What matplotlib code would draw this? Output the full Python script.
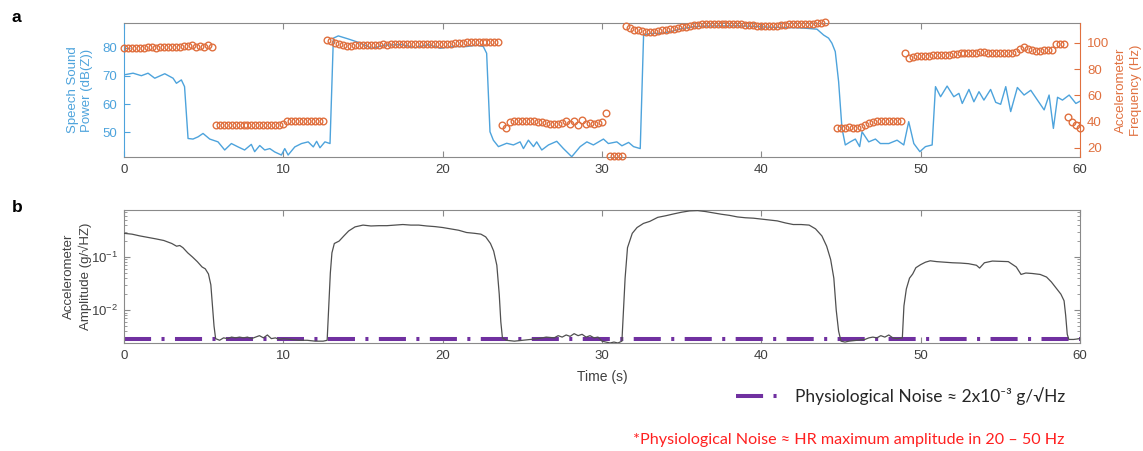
import matplotlib
matplotlib.use("Agg")
import matplotlib.pyplot as plt
import numpy as np

plt.rcParams['font.family'] = ['Liberation Sans', 'DejaVu Sans']
plt.rcParams['mathtext.fontset'] = 'custom'
plt.rcParams['mathtext.rm'] = 'Liberation Sans'
plt.rcParams['mathtext.it'] = 'Liberation Sans:italic'
plt.rcParams['mathtext.default'] = 'regular'
plt.rcParams['lines.scale_dashes'] = False

# ---------------- data: panel a ----------------
speech_t = [0.0, 0.57, 1.09, 1.51, 1.93, 2.56, 3.08, 3.29, 3.6, 3.8, 4.02, 4.33, 4.65, 4.96, 5.38,
            5.9, 6.32, 6.74, 7.16, 7.57, 7.99, 8.2, 8.52, 8.83, 9.15, 9.46, 9.88, 10.09, 10.3,
            10.72, 11.14, 11.56, 11.88, 12.09, 12.3, 12.61, 12.93, 13.14, 13.45, 14.08, 14.71,
            15.55, 16.39, 17.43, 18.27, 19.1, 19.84, 20.68, 21.5, 22.13, 22.55, 22.76, 22.97,
            23.18, 23.5, 24.02, 24.44, 24.86, 25.07, 25.38, 25.7, 25.9, 26.22, 26.64, 27.16,
            27.58, 28.1, 28.63, 29.05, 29.46, 30.09, 30.4, 30.93, 31.25, 31.67, 31.98, 32.4,
            32.61, 33.03, 33.66, 34.29, 34.92, 35.76, 36.5, 37.5, 38.5, 39.5, 40.5, 41.5, 42.2,
            42.86, 43.49, 43.91, 44.22, 44.43, 44.64, 44.85, 45.06, 45.27, 45.58, 45.9, 46.17,
            46.32, 46.74, 47.16, 47.47, 48.0, 48.52, 48.94, 49.25, 49.57, 49.95, 50.3, 50.72,
            50.93, 51.25, 51.66, 52.08, 52.4, 52.61, 53.03, 53.34, 53.66, 53.97, 54.39, 54.71,
            55.02, 55.34, 55.65, 56.07, 56.49, 56.91, 57.33, 57.75, 58.06, 58.33, 58.59, 58.9,
            59.32, 59.74, 60.0]
speech_db = [70.4, 71.0, 70.1, 71.0, 69.2, 70.8, 69.2, 67.4, 68.6, 66.2, 47.7, 47.5, 48.3, 49.5, 47.5,
             46.5, 43.6, 45.9, 44.7, 43.6, 45.6, 43.0, 45.2, 43.6, 44.1, 42.9, 41.8, 44.1, 41.8,
             44.7, 45.9, 46.5, 44.7, 46.7, 44.4, 46.5, 45.9, 83.5, 84.3, 83.2, 82.0,
             79.9, 81.0, 81.2, 80.1, 81.2, 79.9, 80.5, 80.5, 81.0, 80.5, 78.1, 50.1,
             47.1, 44.8, 46.0, 45.4, 46.5, 44.1, 47.1, 44.8, 46.5, 43.6, 45.4, 46.7,
             44.1, 41.2, 44.8, 46.5, 45.4, 47.5, 45.9, 46.5, 45.1, 46.3, 44.8, 44.1,
             84.6, 85.2, 85.2, 85.8, 86.8, 87.6, 87.8, 87.9, 87.9, 87.7, 87.4, 87.3, 87.2,
             87.0, 86.7, 84.6, 83.5, 81.7, 78.7, 68.0, 51.4, 45.4, 46.5, 47.5, 44.8,
             50.1, 46.5, 47.5, 45.9, 45.9, 47.1, 45.4, 53.7, 45.9, 43.0, 44.8, 45.4,
             66.2, 62.6, 66.4, 62.6, 63.8, 60.2, 65.2, 60.8, 64.4, 61.4, 65.2, 60.6,
             59.9, 66.2, 57.3, 65.9, 63.2, 64.9, 61.4, 57.9, 63.2, 51.3, 62.4, 61.4,
             63.2, 60.2, 61.0]

freq_step = 0.25
freq_seg0 = (0.0, [96.0, 96.0, 96.2, 96.0, 96.5, 96.3, 97.0, 96.8, 96.5, 97.0, 97.2, 96.8, 97.2,
                   97.0, 96.6, 97.3, 97.8, 98.2, 97.2, 97.9, 97.0, 98.3, 97.2])
freq_seg1 = (5.75, [37.6, 37.5, 37.5, 37.4, 37.5, 37.5, 37.6, 37.5, 37.5, 37.4, 37.5, 37.5, 37.5,
                    37.6, 37.5, 37.5, 37.6, 38.0])
freq_seg2 = (10.25, [40.3, 40.5, 40.5, 40.6, 40.5, 40.5, 40.5, 40.6, 40.5, 40.5])
freq_seg3 = (12.75, [102.5, 101.5, 100.0, 99.0, 98.3, 98.0, 98.0, 98.2, 98.3, 98.5, 98.7, 98.7,
                     98.8, 98.8, 99.0, 98.8, 99.0, 99.0, 99.2, 99.0, 99.2, 99.0, 99.2, 99.3, 99.1,
                     99.3, 99.2, 99.4, 99.3, 99.5, 99.4, 99.5, 99.6, 99.8, 100.2, 100.8, 101.0,
                     101.0, 101.0, 101.1, 101.0, 101.0, 100.8, 100.5])
freq_seg4 = (23.75, [37.5, 35.5, 40.0, 40.3, 40.2, 40.4, 40.3, 40.2, 40.2, 40.0, 39.5, 39.0, 38.5,
                     38.2, 38.5, 39.0, 40.5, 38.0, 40.8, 37.8, 41.5, 38.5, 39.0, 38.3, 38.8, 39.5,
                     46.5])
freq_seg5 = (30.5, [14.0, 14.0, 14.0, 14.0])
freq_seg6 = (31.5, [113.0, 111.5, 110.0, 109.5, 109.0, 108.5, 108.5, 108.7, 109.0, 109.5, 110.0,
                    110.5, 111.0, 111.5, 112.0, 112.5, 113.0, 113.5, 114.0, 114.3, 114.5, 114.5,
                    114.6, 114.5, 114.5, 114.6, 114.5, 114.5, 114.4, 114.3, 114.0, 113.5, 113.3,
                    113.2, 113.0, 113.0, 113.2, 113.0, 113.2, 113.5, 113.8, 114.2, 114.5, 114.5,
                    114.6, 114.5, 114.6, 114.7, 115.0, 115.5, 116.0])
freq_seg7 = (44.75, [35.5, 35.5, 35.5, 35.6, 35.5, 35.5, 35.7, 37.5, 39.0, 40.0, 40.5, 40.5, 40.6,
                     40.5, 40.5, 40.6, 40.5])
freq_seg8 = (49.0, [92.5, 88.5, 89.5, 90.0, 90.2, 90.3, 90.3, 90.5, 90.5, 90.8, 91.0, 91.0, 91.3,
                    91.5, 92.0, 92.2, 92.3, 92.3, 92.5, 92.8, 93.0, 92.5, 92.3, 92.2, 92.3, 92.3,
                    92.4, 92.5, 93.0, 95.5, 97.0, 95.5, 94.5, 94.2, 94.2, 94.3, 94.3, 94.5, 99.0,
                    99.5, 99.5])
freq_seg9 = (59.25, [43.5, 40.0, 37.5, 35.5])
freq_segments = [freq_seg0, freq_seg1, freq_seg2, freq_seg3, freq_seg4, freq_seg5,
                 freq_seg6, freq_seg7, freq_seg8, freq_seg9]

# ---------------- data: panel b ----------------
amp_t = [0.0, 0.5, 1.0, 1.5, 2.0, 2.5, 3.0, 3.3, 3.5, 3.7, 4.0, 4.3, 4.6, 4.9, 5.1, 5.3, 5.45, 5.55,
         5.65, 5.75, 6.0, 6.25, 6.5, 6.75, 7.0, 7.25, 7.5, 7.75, 8.0, 8.25, 8.5, 8.75, 9.0, 9.25,
         9.5, 9.75, 10.0, 10.5, 11.0, 11.5, 12.0, 12.5, 12.75, 12.85, 12.95, 13.05, 13.2, 13.5,
         13.8, 14.1, 14.5, 15.0, 15.5, 16.0, 16.5, 17.0, 17.5, 18.0, 18.5, 19.0, 19.5, 20.0, 20.5,
         21.0, 21.5, 22.0, 22.4, 22.7, 23.0, 23.2, 23.4, 23.55, 23.65, 23.75, 24.0, 24.5, 25.0,
         25.5, 26.0, 26.5, 27.0, 27.25, 27.5, 27.75, 28.0, 28.25, 28.5, 28.75, 29.0, 29.25, 29.5,
         29.75, 30.0, 30.25, 30.5, 30.75, 31.0, 31.25, 31.35, 31.45, 31.6, 31.9, 32.2, 32.6,
         33.0, 33.5, 34.0, 34.5, 35.0, 35.5, 36.0, 36.5, 37.0, 37.5, 38.0, 38.5, 39.0, 39.5,
         40.0, 40.5, 41.0, 41.5, 42.0, 42.5, 43.0, 43.4, 43.8, 44.1, 44.35, 44.55, 44.7, 44.85,
         45.0, 45.25, 45.5, 46.0, 46.5, 46.75, 47.0, 47.25, 47.5, 47.75, 48.0, 48.25, 48.5,
         48.85, 48.95, 49.1, 49.3, 49.5, 49.7, 50.0, 50.3, 50.6, 51.0, 51.5, 52.0, 52.5, 53.0,
         53.5, 53.7, 54.0, 54.5, 55.0, 55.5, 56.0, 56.3, 56.6, 57.0, 57.5, 57.9, 58.2, 58.5,
         58.8, 59.0, 59.1, 59.2, 59.3, 59.6, 60.0]
amp_g = [0.28, 0.27, 0.25, 0.235, 0.22, 0.205, 0.18, 0.16, 0.165, 0.15, 0.12, 0.10, 0.082, 0.065,
         0.06, 0.048, 0.03, 0.012, 0.005, 0.0029, 0.0027, 0.0030, 0.0029, 0.0031, 0.0030, 0.0031,
         0.0030, 0.0031, 0.0029, 0.0031, 0.0033, 0.0030, 0.0034, 0.0029, 0.0030, 0.0028, 0.0029,
         0.0028, 0.0027, 0.0027, 0.0026, 0.0026, 0.0027, 0.012, 0.05, 0.12, 0.18, 0.20, 0.25,
         0.31, 0.37, 0.40, 0.385, 0.39, 0.39, 0.40, 0.41, 0.40, 0.40, 0.385, 0.375, 0.36, 0.34,
         0.32, 0.29, 0.28, 0.27, 0.24, 0.18, 0.13, 0.07, 0.02, 0.006, 0.003, 0.0027, 0.0026,
         0.0027, 0.0028, 0.0029, 0.0031, 0.0030, 0.0033, 0.0031, 0.0034, 0.0032, 0.0036, 0.0033,
         0.0035, 0.0031, 0.0033, 0.0030, 0.0031, 0.0026, 0.0025, 0.0024, 0.0025, 0.0024, 0.0026,
         0.01, 0.04, 0.15, 0.28, 0.36, 0.43, 0.47, 0.56, 0.60, 0.65, 0.70, 0.74, 0.75, 0.72,
         0.68, 0.64, 0.61, 0.57, 0.55, 0.54, 0.52, 0.50, 0.48, 0.44, 0.41, 0.41, 0.40, 0.34,
         0.25, 0.16, 0.09, 0.04, 0.01, 0.004, 0.0026, 0.0025, 0.0026, 0.0027, 0.0028, 0.0030,
         0.0031, 0.0030, 0.0033, 0.0031, 0.0034, 0.0030, 0.0029, 0.003, 0.012, 0.025, 0.04,
         0.048, 0.063, 0.072, 0.08, 0.085, 0.082, 0.08, 0.078, 0.077, 0.075, 0.07, 0.062, 0.078,
         0.084, 0.083, 0.082, 0.065, 0.047, 0.05, 0.049, 0.047, 0.042, 0.034, 0.026, 0.02,
         0.015, 0.008, 0.0035, 0.0028, 0.0028, 0.0029]
noise_level = 2.8e-3
noise_t = [0.0, 60.0]

x_ticks = [0, 10, 20, 30, 40, 50, 60]
speech_ticks = [50, 60, 70, 80]
freq_ticks = [20, 40, 60, 80, 100]

# ---------------- styling ----------------
BLUE = '#4DA3DC'
ORANGE = '#E0703F'
GREY = '#8A8A8A'
TXT = '#404040'
PURPLE = '#7030A0'

W, H = 1143, 451
fig = plt.figure(figsize=(W / 100, H / 100), dpi=100)

def fbox(l, t, r, b):
    return [l / W, 1 - b / H, (r - l) / W, (b - t) / H]

ax = fig.add_axes(fbox(124, 23, 1080, 157))
ax2 = ax.twinx()
axb = fig.add_axes(fbox(124, 210, 1080, 343))

# panel a
ax.plot(speech_t, speech_db, color=BLUE, lw=1.0, zorder=3)
ax.set_xlim(0, 60)
ax.set_ylim(41.1, 88.9)
ax.set_xticks(x_ticks)
ax.set_yticks(speech_ticks)

for t0, vals in freq_segments:
    tt = t0 + freq_step * np.arange(len(vals))
    ax2.plot(tt, vals, linestyle='none', marker='o', markersize=4.8, markerfacecolor='none',
             markeredgecolor=ORANGE, markeredgewidth=1.0, clip_on=False)
ax2.set_ylim(13.1, 115.2)
ax2.set_yticks(freq_ticks)

for s in ['top', 'bottom']:
    ax.spines[s].set_color(GREY)
ax.spines['left'].set_color(BLUE)
ax.spines['right'].set_visible(False)
for s in ['top', 'bottom', 'left']:
    ax2.spines[s].set_visible(False)
ax2.spines['right'].set_color(ORANGE)
for sp in list(ax.spines.values()) + list(ax2.spines.values()):
    sp.set_linewidth(0.8)

ax.tick_params(axis='x', direction='in', top=True, length=4, width=0.8, color=GREY,
               labelsize=9.5, labelcolor=TXT, pad=5)
ax.tick_params(axis='y', direction='in', length=4, width=0.8, color=BLUE,
               labelsize=9.5, labelcolor=BLUE, pad=5)
ax2.tick_params(axis='y', direction='in', length=4, width=0.8, color=ORANGE,
                labelsize=9.5, labelcolor=ORANGE, pad=5)

ax.set_ylabel('Speech Sound\nPower (dB(Z))', color=BLUE, fontsize=9.5, linespacing=1.3)
ax.yaxis.set_label_coords(-0.032, 0.5)
ax2.set_ylabel('Accelerometer\nFrequency (Hz)', color=ORANGE, fontsize=9.5, linespacing=1.3)
ax2.yaxis.set_label_coords(1.037, 0.5)

# panel b
axb.plot(amp_t, amp_g, color='#505050', lw=0.9, zorder=3)
axb.plot(noise_t, [noise_level, noise_level], color=PURPLE, lw=2.9,
         dashes=(19.5, 7.5, 2.2, 7.5), solid_capstyle='butt', dash_capstyle='butt',
         zorder=2, label='Physiological Noise \u2248 2x10\u207b\u00b3 g/\u221aHz')
axb.set_yscale('log')
axb.set_xlim(0, 60)
axb.set_ylim(0.0024, 0.77)
axb.set_xticks(x_ticks)
for sp in axb.spines.values():
    sp.set_color(GREY)
    sp.set_linewidth(0.8)
axb.tick_params(axis='x', direction='in', top=True, length=4, width=0.8, color=GREY,
                labelsize=9.5, labelcolor=TXT, pad=5)
axb.tick_params(axis='y', which='major', direction='in', right=True, length=4, width=0.8,
                color=GREY, labelsize=9.5, labelcolor=TXT, pad=4)
axb.tick_params(axis='y', which='minor', direction='in', right=True, length=2.2, width=0.6,
                color=GREY)
axb.set_ylabel('Accelerometer\nAmplitude (g/\u221aHZ)', color=TXT, fontsize=9.5, linespacing=1.3)
axb.yaxis.set_label_coords(-0.0335, 0.5)
axb.set_xlabel('Time (s)', color=TXT, fontsize=10)
axb.xaxis.set_label_coords(0.5, -0.2)

# panel letters
fig.text(12 / W, 1 - 18 / H, 'a', fontsize=12.5, fontweight='bold', va='center', ha='left')
fig.text(12 / W, 1 - 208 / H, 'b', fontsize=12.5, fontweight='bold', va='center', ha='left')

# legend
leg = fig.legend(handles=axb.get_lines()[1:], loc='center left',
                 bbox_to_anchor=(736 / W, 1 - 396 / H), frameon=False, borderpad=0,
                 borderaxespad=0, handlelength=2.45, handletextpad=0.95,
                 prop={'family': ['Lato', 'DejaVu Sans'], 'size': 12.5})
for txt in leg.get_texts():
    txt.set_color('#262626')

fig.text(633 / W, 1 - 440 / H,
         '*Physiological Noise \u2248 HR maximum amplitude in 20 \u2013 50 Hz',
         color='#FF2020', fontsize=11.6, family=['Lato', 'DejaVu Sans'], va='center', ha='left')

fig.savefig('out.png', dpi=100)
